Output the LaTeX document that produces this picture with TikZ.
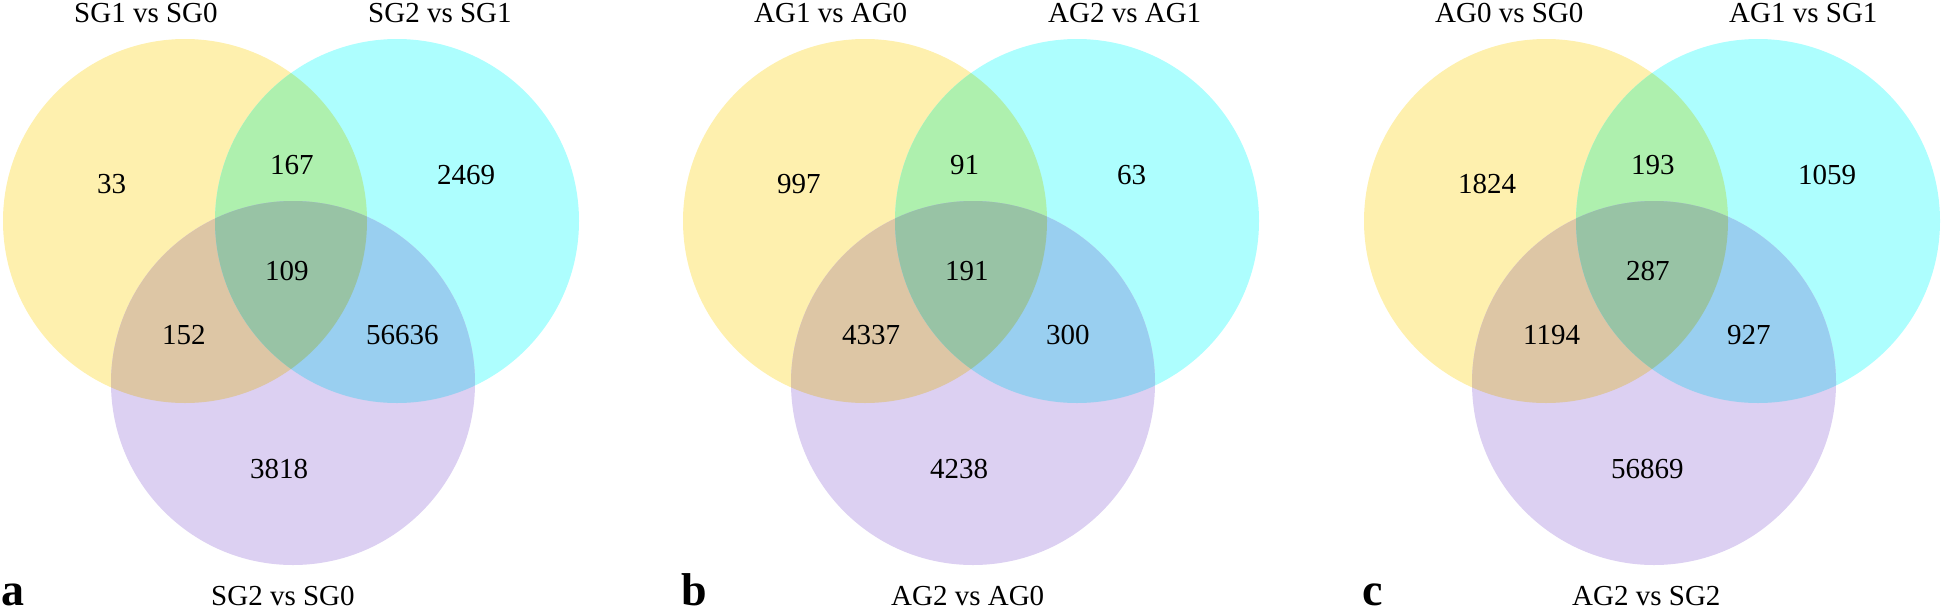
\documentclass[tikz,border=0pt]{standalone}
\usepackage{fontspec}
\setmainfont{Liberation Serif}
\definecolor{vY}{HTML}{FEF0AE}
\definecolor{vC}{HTML}{ADFEFE}
\definecolor{vP}{HTML}{DCD0F2}
\definecolor{vG}{HTML}{AEF0AE}
\definecolor{vT}{HTML}{DDC6A5}
\definecolor{vB}{HTML}{99CFF0}
\definecolor{vM}{HTML}{98C3A5}
\tikzset{
  num/.style={font=\fontsize{29}{29}\selectfont, inner sep=0pt, text depth=0pt, anchor=west},
  ttl/.style={font=\fontsize{29}{29}\selectfont, inner sep=0pt, text depth=0pt, anchor=west},
  plabel/.style={font=\fontsize{46}{46}\selectfont\bfseries, inner sep=0pt, anchor=base west},
}
\newcommand\myvennshapes{%
  \fill[vY] (185,221) circle[radius=182pt];
  \fill[vC] (397,221) circle[radius=182pt];
  \fill[vP] (293,383) circle[radius=182pt];
  \begin{scope}\clip (185,221) circle[radius=182pt];
    \fill[vG] (397,221) circle[radius=182pt];
    \fill[vT] (293,383) circle[radius=182pt];
  \end{scope}
  \begin{scope}\clip (397,221) circle[radius=182pt];
    \fill[vB] (293,383) circle[radius=182pt];
  \end{scope}
  \begin{scope}\clip (185,221) circle[radius=182pt];
    \clip (397,221) circle[radius=182pt];
    \fill[vM] (293,383) circle[radius=182pt];
  \end{scope}
}
\begin{document}
\begin{tikzpicture}[x=1pt,y=-1pt]
\useasboundingbox (0,0) rectangle (1946,611);
% ---------- panel a ----------
\begin{scope}
  \myvennshapes
  \node[ttl] (at1) at (74,13) {SG1 vs SG0};
  \node[ttl] (at2) at (368,13) {SG2 vs SG1};
  \node[ttl] (at3) at (211,596) {SG2 vs SG0};
  \node[plabel] (al) at (1,605) {a};
  \node[num] (an1) at (97,184) {33};
  \node[num] (an2) at (270,165) {167};
  \node[num] (an3) at (437,175) {2469};
  \node[num] (an4) at (265,271) {109};
  \node[num] (an5) at (162,335) {152};
  \node[num] (an6) at (366,335) {56636};
  \node[num] (an7) at (250,469) {3818};
\end{scope}
% ---------- panel b ----------
\begin{scope}[xshift=680pt]
  \myvennshapes
  \node[ttl] (bt1) at (74,13) {AG1 vs AG0};
  \node[ttl] (bt2) at (368,13) {AG2 vs AG1};
  \node[ttl] (bt3) at (211,596) {AG2 vs AG0};
  \node[plabel] (bl) at (1,605) {b};
  \node[num] (bn1) at (97,184) {997};
  \node[num] (bn2) at (270,165) {91};
  \node[num] (bn3) at (437,175) {63};
  \node[num] (bn4) at (265,271) {191};
  \node[num] (bn5) at (162,335) {4337};
  \node[num] (bn6) at (366,335) {300};
  \node[num] (bn7) at (250,469) {4238};
\end{scope}
% ---------- panel c ----------
\begin{scope}[xshift=1361pt]
  \myvennshapes
  \node[ttl] (ct1) at (74,13) {AG0 vs SG0};
  \node[ttl] (ct2) at (368,13) {AG1 vs SG1};
  \node[ttl] (ct3) at (211,596) {AG2 vs SG2};
  \node[plabel] (cl) at (1,605) {c};
  \node[num] (cn1) at (97,184) {1824};
  \node[num] (cn2) at (270,165) {193};
  \node[num] (cn3) at (437,175) {1059};
  \node[num] (cn4) at (265,271) {287};
  \node[num] (cn5) at (162,335) {1194};
  \node[num] (cn6) at (366,335) {927};
  \node[num] (cn7) at (250,469) {56869};
\end{scope}
\end{tikzpicture}
\end{document}
